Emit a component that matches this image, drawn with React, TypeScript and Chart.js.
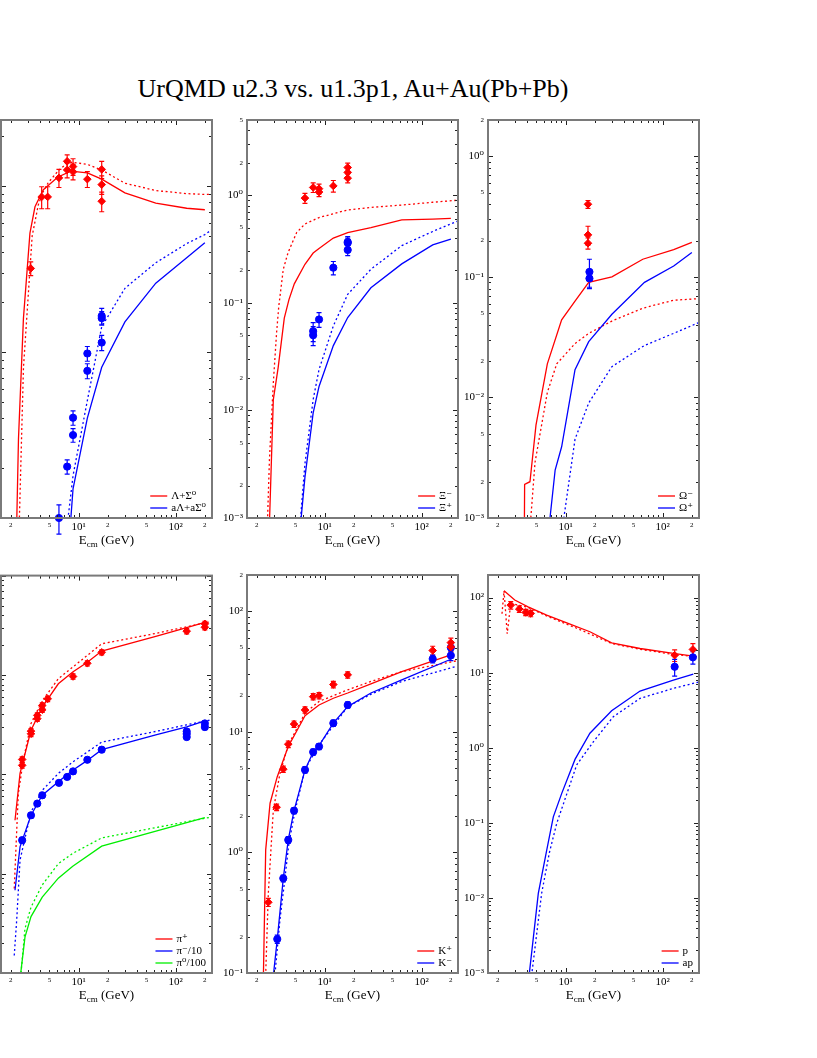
import React, { useEffect, useRef } from 'react';
import { Chart, registerables } from 'chart.js';

Chart.register(...registerables);

type Pair = [number, number];

const TITLE = 'UrQMD u2.3 vs. u1.3p1, Au+Au(Pb+Pb)';
const SERIF = "'Liberation Serif', 'DejaVu Serif', 'Times New Roman', serif";
const RED = '#ff0000';
const BLUE = '#0000ff';
const GREEN = '#00ee00';

// common x axis (sqrt(s_NN) in GeV)
const X_MIN = 1.585;
const X_MAX = 237;

// ---------- Panel 1: Lambda ----------
const LAM_U23: Pair[] = [[2.25, 0.05], [2.4, 0.3], [2.7, 1.6], [3.15, 5.2], [3.55, 7.5], [4.33, 9.5], [6.07, 11.3], [8.3, 12.3], [12.3, 12.0], [17.3, 11.0], [30, 9.1], [62.4, 7.9], [130, 7.35], [200, 7.2]];
const LAM_U13: Pair[] = [[2.32, 0.03], [2.7, 0.8], [3.32, 5.0], [3.84, 7.7], [4.29, 9.2], [4.87, 10.5], [6.27, 12.5], [7.62, 13.7], [8.76, 13.9], [12.3, 13.5], [17.3, 12.5], [30, 10.4], [62.4, 9.4], [130, 9.0], [200, 8.9], [240, 8.9]];
const ALAM_U23: Pair[] = [[7.62, 0.05], [8.76, 0.15], [12.3, 0.4], [17.3, 0.81], [30, 1.52], [62.4, 2.6], [130, 3.7], [200, 4.55]];
const ALAM_U13: Pair[] = [[6.27, 0.02], [7.62, 0.09], [8.76, 0.18], [12.3, 0.51], [17.3, 1.42], [30, 2.42], [62.4, 3.45], [130, 4.5], [200, 5.1], [240, 5.5]];
const LAM_DATA_X = [3.21, 4.16, 4.8, 6.27, 7.62, 7.62, 8.76, 8.76, 12.3, 17.3, 17.3, 17.3];
const LAM_DATA_Y = [3.19, 8.6, 8.6, 11.2, 14.1, 12.5, 13.1, 12.2, 11.0, 12.6, 10.2, 8.1];
const LAM_DATA_E = [0.3, 1.3, 1.3, 1.4, 1.3, 1.3, 1.5, 1.3, 1.2, 1.5, 1.3, 1.1];
const ALAM_DATA_X = [6.27, 7.62, 8.76, 8.76, 12.3, 12.3, 17.3, 17.3, 17.3];
const ALAM_DATA_Y = [0.1, 0.204, 0.402, 0.316, 0.98, 0.77, 1.65, 1.6, 1.14];
const ALAM_DATA_E = [0.02, 0.02, 0.04, 0.03, 0.1, 0.08, 0.18, 0.15, 0.12];

// ---------- Panel 2: Xi ----------
const XI_U23: Pair[] = [[2.7, 0.0009], [2.96, 0.0126], [3.32, 0.025], [3.84, 0.072], [4.29, 0.107], [4.87, 0.15], [6.27, 0.228], [7.62, 0.29], [8.76, 0.32], [12.3, 0.4], [17.3, 0.45], [30, 0.5], [62.4, 0.59], [130, 0.6], [200, 0.61]];
const XI_U13: Pair[] = [[2.55, 0.0007], [2.7, 0.0035], [2.96, 0.018], [3.2, 0.053], [3.37, 0.093], [3.75, 0.205], [4.2, 0.293], [5.15, 0.45], [6.27, 0.54], [8.76, 0.62], [17.3, 0.73], [30, 0.77], [62.4, 0.81], [130, 0.86], [240, 0.9]];
const AXI_U23: Pair[] = [[5.6, 0.0008], [6.27, 0.0024], [7.62, 0.0095], [8.76, 0.0167], [12.3, 0.04], [17.3, 0.073], [30, 0.138], [62.4, 0.23], [130, 0.345], [200, 0.39]];
const AXI_U13: Pair[] = [[5.6, 0.0009], [6.27, 0.0032], [7.62, 0.0126], [8.76, 0.024], [12.3, 0.061], [17.3, 0.12], [30, 0.205], [62.4, 0.34], [130, 0.46], [240, 0.58]];
const XI_DATA_X = [6.27, 7.62, 8.76, 8.76, 12.3, 17.3, 17.3, 17.3];
const XI_DATA_Y = [0.94, 1.18, 1.15, 1.07, 1.22, 1.81, 1.63, 1.44];
const XI_DATA_E = [0.1, 0.12, 0.12, 0.1, 0.15, 0.18, 0.16, 0.14];
const AXI_DATA_X = [7.62, 7.62, 8.76, 12.3, 17.3, 17.3, 17.3];
const AXI_DATA_Y = [0.0545, 0.05, 0.07, 0.212, 0.368, 0.36, 0.31];
const AXI_DATA_E = [0.011, 0.01, 0.011, 0.03, 0.045, 0.04, 0.035];

// ---------- Panel 3: Omega ----------
const OM_U23: Pair[] = [[3.72, 0.0002], [3.78, 0.0019], [4.29, 0.002], [4.95, 0.0059], [6.48, 0.019], [9.1, 0.044], [12.5, 0.063], [17.3, 0.09], [30, 0.1], [62.4, 0.14], [130, 0.168], [200, 0.193]];
const OM_U13: Pair[] = [[4.1, 0.0005], [4.84, 0.0029], [6.48, 0.011], [8.1, 0.019], [12.5, 0.028], [17.3, 0.034], [30, 0.043], [62.4, 0.055], [130, 0.064], [240, 0.066]];
const AOM_U23: Pair[] = [[6.7, 0.0008], [7.8, 0.0025], [9.1, 0.0039], [12.5, 0.017], [17.3, 0.029], [30, 0.049], [65, 0.09], [130, 0.123], [200, 0.159]];
const AOM_U13: Pair[] = [[9.0, 0.0007], [12.5, 0.0045], [17.3, 0.009], [30, 0.018], [65, 0.027], [130, 0.034], [240, 0.042]];
const OM_DATA_X = [17.0, 17.0, 17.0];
const OM_DATA_Y = [0.4, 0.223, 0.19];
const OM_DATA_E = [0.03, 0.04, 0.02];
const AOM_DATA_X = [17.6, 17.6];
const AOM_DATA_Y = [0.11, 0.097];
const AOM_DATA_E = [0.03, 0.015];

// ---------- Panel 4: pions ----------
const PIP_U23: Pair[] = [[2.21, 3.45], [2.49, 10.2], [3.23, 27.7], [4.22, 47.4], [6.18, 81.5], [8.7, 107], [12.3, 134], [17.3, 174], [62.4, 244], [130, 300], [200, 339]];
const PIP_U13: Pair[] = [[2.17, 0.71], [2.39, 6.4], [2.69, 13.8], [3.23, 32.4], [4.22, 55], [6.18, 91.6], [8.7, 120], [17.3, 206], [54.5, 255], [240, 347]];
const PIM_U23: Pair[] = [[2.21, 0.68], [2.49, 1.86], [3.23, 3.87], [4.22, 6.15], [6.18, 8.4], [8.7, 11.0], [12.3, 13.8], [17.3, 17.7], [62.4, 25], [130, 30], [200, 34.4]];
const PIM_U13: Pair[] = [[2.17, 0.15], [2.3, 0.34], [2.49, 1.37], [3.23, 4.18], [4.22, 6.9], [6.18, 10.2], [8.7, 13.3], [17.3, 21.1], [62.4, 27], [130, 31.5], [240, 35.5]];
const PI0_U23: Pair[] = [[2.5, 0.09], [2.8, 0.23], [3.23, 0.37], [4.22, 0.58], [6.18, 0.9], [8.7, 1.19], [17.3, 1.89], [200, 3.67]];
const PI0_U13: Pair[] = [[2.55, 0.1], [2.8, 0.28], [3.23, 0.46], [4.22, 0.77], [6.18, 1.26], [8.7, 1.6], [17.3, 2.29], [240, 3.73]];
const PIP_DATA_X = [2.62, 2.62, 3.23, 3.23, 3.75, 3.75, 4.22, 4.22, 4.8, 8.76, 12.3, 17.3, 130, 200, 200];
const PIP_DATA_Y = [14.1, 12.3, 27.2, 25.6, 39.2, 36.3, 49.3, 44.7, 57.5, 96.5, 131, 169, 276, 327, 302];
const PIP_DATA_E = [0.9, 0.8, 1.7, 1.6, 2.4, 2.2, 3.0, 2.7, 3.5, 6, 8, 10, 17, 20, 18];
const PIM_DATA_X = [2.62, 3.23, 3.75, 4.22, 6.27, 7.62, 8.76, 12.3, 17.3, 130, 130, 130, 200, 200];
const PIM_DATA_Y = [2.17, 3.87, 5.07, 6.15, 8.2, 9.4, 10.7, 14.0, 17.7, 27.0, 25.5, 23.7, 32.5, 29.9];
const PIM_DATA_E = [0.15, 0.25, 0.3, 0.35, 0.45, 0.5, 0.6, 0.8, 1.0, 1.5, 1.4, 1.3, 1.8, 1.7];

// ---------- Panel 5: kaons ----------
const KP_U23: Pair[] = [[2.33, 0.08], [2.47, 1.05], [2.74, 2.56], [3.25, 4.25], [4.22, 7.56], [6.28, 13.6], [8.76, 16.7], [12.3, 19.0], [17.3, 21.0], [30, 25.0], [62.4, 31.6], [200, 43.5]];
const KP_U13: Pair[] = [[2.45, 0.08], [2.63, 0.46], [2.96, 2.25], [3.47, 4.54], [4.22, 7.8], [6.28, 14.3], [8.76, 17.9], [17.3, 22.3], [30, 26.2], [62.4, 31.6], [240, 39.1]];
const KM_U23: Pair[] = [[2.94, 0.09], [3.25, 0.19], [3.75, 0.61], [4.22, 1.27], [4.84, 2.22], [6.28, 4.84], [7.62, 6.8], [8.76, 7.7], [12.3, 11.8], [17.3, 16.2], [30, 21], [62.4, 27], [200, 40]];
const KM_U13: Pair[] = [[3.05, 0.09], [3.47, 0.28], [3.84, 0.55], [4.29, 1.2], [4.95, 2.2], [6.28, 4.9], [8.76, 7.8], [17.3, 16.2], [30, 20.5], [62.4, 26.2], [240, 35.3]];
const KP_DATA_X = [2.63, 3.2, 3.75, 4.22, 4.84, 6.28, 7.62, 8.76, 12.3, 17.3, 130, 200, 200];
const KP_DATA_Y = [0.386, 2.37, 4.9, 7.9, 11.6, 15.2, 19.6, 20.0, 24.7, 29.7, 47.3, 55, 50.5];
const KP_DATA_E = [0.03, 0.15, 0.3, 0.5, 0.7, 0.9, 1.2, 1.2, 1.5, 1.8, 4, 5, 4];
const KM_DATA_X = [3.25, 3.75, 4.22, 4.84, 6.28, 7.62, 8.76, 12.3, 17.3, 130, 200, 200];
const KM_DATA_Y = [0.191, 0.61, 1.27, 2.22, 4.84, 6.8, 7.56, 11.8, 16.7, 40.3, 50, 43];
const KM_DATA_E = [0.015, 0.04, 0.08, 0.13, 0.3, 0.4, 0.45, 0.7, 1.0, 3, 5, 4];

// ---------- Panel 6: protons ----------
const P_U23: Pair[] = [[2.32, 123], [2.99, 92.7], [4.1, 75.3], [6.38, 58.5], [10.6, 45.3], [17.8, 35.1], [29.8, 25], [58.5, 21], [129, 18.1], [207, 16.6]];
const P_U13: Pair[] = [[2.21, 61], [2.32, 123], [2.5, 33], [2.72, 84], [4.1, 74], [6.38, 57], [12.5, 40], [29.8, 24.5], [58.5, 20.5], [129, 17.5], [240, 16.2]];
const AP_U23: Pair[] = [[4.15, 0.0008], [5.23, 0.0115], [6.38, 0.043], [7.47, 0.12], [9.12, 0.247], [12.5, 0.7], [17.8, 1.56], [29.8, 3.11], [58.5, 5.69], [129, 7.96], [207, 9.57]];
const AP_U13: Pair[] = [[4.4, 0.0008], [5.66, 0.0115], [6.8, 0.04], [8.09, 0.098], [13, 0.59], [19.3, 1.2], [31, 2.59], [58.5, 4.55], [129, 6.18], [240, 7.57]];
const P_DATA_X = [2.72, 3.33, 3.88, 4.37, 133, 205];
const P_DATA_Y = [79.4, 70.3, 63.5, 61.6, 17.1, 20.4];
const P_DATA_E = [9, 7, 6, 6, 3, 4];
const AP_DATA_X = [133, 205];
const AP_DATA_Y = [12.0, 16.0];
const AP_DATA_E = [3, 3];

// ---------- layout ----------
const PANEL_W = 211;
const PANEL_H = 398;
const PAD_L = 40;
const PAD_T = 10;
const PAD_R = 10;
const PAD_B = 40;
const CW = PANEL_W + PAD_L + PAD_R;
const CH = PANEL_H + PAD_T + PAD_B;

interface CurveSpec { label: string; color: string; dotted: boolean; pts: Pair[] }
interface DataSpec { color: string; marker: 'rectRot' | 'circle'; x: number[]; y: number[]; e: number[] }
interface PanelSpec { left: number; top: number; yMin: number; yMax: number; minorLabels: boolean; curves: CurveSpec[]; data: DataSpec[] }

const cv = (label: string, color: string, dotted: boolean, pts: Pair[]): CurveSpec => ({ label, color, dotted, pts });
const dt = (color: string, marker: 'rectRot' | 'circle', x: number[], y: number[], e: number[]): DataSpec => ({ color, marker, x, y, e });

const PANELS: PanelSpec[] = [
  {
    left: 1, top: 120, yMin: 0.1, yMax: 25, minorLabels: true,
    curves: [cv('Λ+Σ⁰', RED, false, LAM_U23), cv('aΛ+aΣ⁰', BLUE, false, ALAM_U23), cv('', RED, true, LAM_U13), cv('', BLUE, true, ALAM_U13)],
    data: [dt(RED, 'rectRot', LAM_DATA_X, LAM_DATA_Y, LAM_DATA_E), dt(BLUE, 'circle', ALAM_DATA_X, ALAM_DATA_Y, ALAM_DATA_E)],
  },
  {
    left: 247, top: 120, yMin: 0.001, yMax: 5, minorLabels: true,
    curves: [cv('Ξ⁻', RED, false, XI_U23), cv('Ξ⁺', BLUE, false, AXI_U23), cv('', RED, true, XI_U13), cv('', BLUE, true, AXI_U13)],
    data: [dt(RED, 'rectRot', XI_DATA_X, XI_DATA_Y, XI_DATA_E), dt(BLUE, 'circle', AXI_DATA_X, AXI_DATA_Y, AXI_DATA_E)],
  },
  {
    left: 488, top: 120, yMin: 0.001, yMax: 2, minorLabels: true,
    curves: [cv('Ω⁻', RED, false, OM_U23), cv('Ω⁺', BLUE, false, AOM_U23), cv('', RED, true, OM_U13), cv('', BLUE, true, AOM_U13)],
    data: [dt(RED, 'rectRot', OM_DATA_X, OM_DATA_Y, OM_DATA_E), dt(BLUE, 'circle', AOM_DATA_X, AOM_DATA_Y, AOM_DATA_E)],
  },
  {
    left: 1, top: 575, yMin: 0.1, yMax: 1000, minorLabels: true,
    curves: [cv('π⁺', RED, false, PIP_U23), cv('π⁻/10', BLUE, false, PIM_U23), cv('π⁰/100', GREEN, false, PI0_U23), cv('', RED, true, PIP_U13), cv('', BLUE, true, PIM_U13), cv('', GREEN, true, PI0_U13)],
    data: [dt(RED, 'rectRot', PIP_DATA_X, PIP_DATA_Y, PIP_DATA_E), dt(BLUE, 'circle', PIM_DATA_X, PIM_DATA_Y, PIM_DATA_E)],
  },
  {
    left: 247, top: 575, yMin: 0.1, yMax: 200, minorLabels: true,
    curves: [cv('K⁺', RED, false, KP_U23), cv('K⁻', BLUE, false, KM_U23), cv('', RED, true, KP_U13), cv('', BLUE, true, KM_U13)],
    data: [dt(RED, 'rectRot', KP_DATA_X, KP_DATA_Y, KP_DATA_E), dt(BLUE, 'circle', KM_DATA_X, KM_DATA_Y, KM_DATA_E)],
  },
  {
    left: 488, top: 575, yMin: 0.001, yMax: 200, minorLabels: false,
    curves: [cv('p', RED, false, P_U23), cv('ap', BLUE, false, AP_U23), cv('', RED, true, P_U13), cv('', BLUE, true, AP_U13)],
    data: [dt(RED, 'rectRot', P_DATA_X, P_DATA_Y, P_DATA_E), dt(BLUE, 'circle', AP_DATA_X, AP_DATA_Y, AP_DATA_E)],
  },
];

// ---------- helpers ----------
const SUPS: Record<string, string> = { '0': '⁰', '1': '¹', '2': '²', '3': '³', '4': '⁴', '5': '⁵', '6': '⁶', '7': '⁷', '8': '⁸', '9': '⁹', '-': '⁻' };
const sup = (s: string) => s.split('').map((c) => SUPS[c] ?? c).join('');
const decadeOf = (v: number) => Math.floor(Math.log10(v) + 1e-9);
const mantissa = (v: number) => Math.round(v / Math.pow(10, decadeOf(v)));
const isDecade = (v: number) => mantissa(v) === 1;

function logTicks(min: number, max: number) {
  const out: { value: number; major: boolean }[] = [];
  for (let d = Math.floor(Math.log10(min)) - 1; d <= Math.ceil(Math.log10(max)); d++) {
    for (let m = 1; m <= 9; m++) {
      const v = parseFloat((m * Math.pow(10, d)).toPrecision(6));
      if (v >= min * 0.9999 && v <= max * 1.0001) out.push({ value: v, major: m === 1 });
    }
  }
  return out;
}

function tickLabel(v: number, minor: boolean) {
  const m = mantissa(v);
  if (m === 1) return '10' + sup(String(decadeOf(v)));
  if (minor && (m === 2 || m === 5)) return String(m);
  return '';
}

const tickFont = (ctx: any) => {
  const v = ctx && ctx.tick ? ctx.tick.value : 1;
  return { family: SERIF, size: isDecade(v) ? 11 : 7 };
};

function decoPlugin() {
  return {
    id: 'panelDeco',
    beforeDatasetsDraw(chart: any) {
      const ctx = chart.ctx;
      const xs = chart.scales.x;
      const ys = chart.scales.y;
      chart.data.datasets.forEach((ds: any) => {
        if (!ds.errors) return;
        ctx.save();
        ctx.strokeStyle = ds.borderColor;
        ctx.lineWidth = 1.2;
        ds.data.forEach((p: any, i: number) => {
          const e = ds.errors[i];
          const px = xs.getPixelForValue(p.x);
          const y1 = ys.getPixelForValue(p.y + e);
          const y2 = ys.getPixelForValue(Math.max(p.y - e, 1e-9));
          ctx.beginPath();
          ctx.moveTo(px, y1); ctx.lineTo(px, y2);
          ctx.moveTo(px - 2.5, y1); ctx.lineTo(px + 2.5, y1);
          ctx.moveTo(px - 2.5, y2); ctx.lineTo(px + 2.5, y2);
          ctx.stroke();
        });
        ctx.restore();
      });
    },
    afterDraw(chart: any) {
      const ctx = chart.ctx;
      const { left, right, top, bottom } = chart.chartArea;
      const xs = chart.scales.x;
      const ys = chart.scales.y;
      ctx.save();
      // inward tick marks on all four sides
      ctx.strokeStyle = '#222';
      ctx.lineWidth = 1;
      ctx.beginPath();
      xs.ticks.forEach((t: any) => {
        const px = Math.round(xs.getPixelForValue(t.value)) + 0.5;
        const len = isDecade(t.value) ? 5 : 3;
        ctx.moveTo(px, bottom); ctx.lineTo(px, bottom - len);
        ctx.moveTo(px, top); ctx.lineTo(px, top + len);
      });
      ys.ticks.forEach((t: any) => {
        const py = Math.round(ys.getPixelForValue(t.value)) + 0.5;
        const len = isDecade(t.value) ? 5 : 3;
        ctx.moveTo(left, py); ctx.lineTo(left + len, py);
        ctx.moveTo(right, py); ctx.lineTo(right - len, py);
      });
      ctx.stroke();
      // frame
      ctx.strokeStyle = '#7a7a7a';
      ctx.lineWidth = 2;
      ctx.strokeRect(left, top, right - left, bottom - top);
      // legend (solid model curves)
      const items = chart.data.datasets.filter((d: any) => d.inLegend);
      ctx.font = `11px ${SERIF}`;
      const maxW = Math.max(...items.map((d: any) => ctx.measureText(d.label).width));
      const tx = right - 6 - maxW;
      items.forEach((d: any, i: number) => {
        const y = bottom - 10 - (items.length - 1 - i) * 12;
        ctx.strokeStyle = d.borderColor;
        ctx.lineWidth = 1.3;
        ctx.beginPath();
        ctx.moveTo(tx - 21, y); ctx.lineTo(tx - 4, y);
        ctx.stroke();
        ctx.fillStyle = '#000';
        ctx.textBaseline = 'middle';
        ctx.textAlign = 'left';
        ctx.fillText(d.label, tx, y);
      });
      // x-axis title E_cm (GeV)
      const cx = (left + right) / 2;
      const base = bottom + 26;
      ctx.textBaseline = 'alphabetic';
      ctx.textAlign = 'left';
      ctx.fillStyle = '#000';
      ctx.font = `13px ${SERIF}`;
      const wE = ctx.measureText('E').width;
      const wG = ctx.measureText(' (GeV)').width;
      ctx.font = `9px ${SERIF}`;
      const wC = ctx.measureText('cm').width;
      let x0 = cx - (wE + wC + wG) / 2;
      ctx.font = `13px ${SERIF}`;
      ctx.fillText('E', x0, base);
      x0 += wE;
      ctx.font = `9px ${SERIF}`;
      ctx.fillText('cm', x0, base + 3);
      x0 += wC;
      ctx.font = `13px ${SERIF}`;
      ctx.fillText(' (GeV)', x0, base);
      ctx.restore();
    },
  };
}

function buildConfig(spec: PanelSpec): any {
  const datasets: any[] = [];
  spec.data.forEach((d) => {
    datasets.push({
      label: '',
      data: d.x.map((x, i) => ({ x, y: d.y[i] })),
      showLine: false,
      pointStyle: d.marker,
      pointRadius: d.marker === 'circle' ? 3.6 : 3.8,
      pointBorderWidth: 1,
      pointBackgroundColor: d.color,
      pointBorderColor: d.color,
      borderColor: d.color,
      clip: false,
      errors: d.e,
    });
  });
  spec.curves.forEach((c) => {
    datasets.push({
      label: c.label,
      data: c.pts.map(([x, y]) => ({ x, y })),
      borderColor: c.color,
      borderWidth: 1.3,
      borderDash: c.dotted ? [2, 2.6] : [],
      pointRadius: 0,
      fill: false,
      tension: 0,
      clip: 0,
      inLegend: !c.dotted,
    });
  });
  return {
    type: 'line',
    data: { datasets },
    options: {
      animation: false,
      responsive: false,
      devicePixelRatio: 1,
      events: [],
      layout: { padding: { left: 0, top: PAD_T, right: PAD_R, bottom: 0 } },
      plugins: { legend: { display: false }, tooltip: { enabled: false }, title: { display: false } },
      scales: {
        x: {
          type: 'logarithmic',
          min: X_MIN,
          max: X_MAX,
          bounds: 'data',
          grid: { display: false, drawTicks: false },
          border: { display: false },
          afterBuildTicks: (s: any) => { s.ticks = logTicks(X_MIN, X_MAX); },
          afterFit: (s: any) => { s.height = PAD_B; },
          ticks: {
            autoSkip: false,
            maxRotation: 0,
            minRotation: 0,
            padding: 3,
            color: '#000',
            font: tickFont,
            callback: (v: any) => tickLabel(Number(v), true),
          },
        },
        y: {
          type: 'logarithmic',
          min: spec.yMin,
          max: spec.yMax,
          bounds: 'data',
          grid: { display: false, drawTicks: false },
          border: { display: false },
          afterBuildTicks: (s: any) => { s.ticks = logTicks(spec.yMin, spec.yMax); },
          afterFit: (s: any) => { s.width = PAD_L; },
          ticks: {
            autoSkip: false,
            padding: 4,
            color: '#000',
            font: tickFont,
            callback: (v: any) => tickLabel(Number(v), spec.minorLabels),
          },
        },
      },
    },
    plugins: [decoPlugin()],
  };
}

function PanelChart({ spec }: { spec: PanelSpec }) {
  const ref = useRef<HTMLCanvasElement>(null);
  useEffect(() => {
    const canvas = ref.current;
    if (!canvas) return;
    const chart = new Chart(canvas, buildConfig(spec));
    return () => chart.destroy();
  }, [spec]);
  return (
    <canvas
      ref={ref}
      width={CW}
      height={CH}
      style={{ position: 'absolute', left: spec.left - PAD_L, top: spec.top - PAD_T, width: CW, height: CH }}
    />
  );
}

export default function App() {
  return (
    <div style={{ position: 'absolute', left: 0, top: 0, width: 817, height: 1058, background: '#fff', overflow: 'hidden' }}>
      <div
        style={{
          position: 'absolute', left: 0, top: 76, width: 706, textAlign: 'center',
          fontFamily: SERIF, fontSize: 26, lineHeight: '26px', color: '#000', whiteSpace: 'nowrap',
        }}
      >
        {TITLE}
      </div>
      {PANELS.map((p, i) => (
        <PanelChart key={i} spec={p} />
      ))}
    </div>
  );
}
